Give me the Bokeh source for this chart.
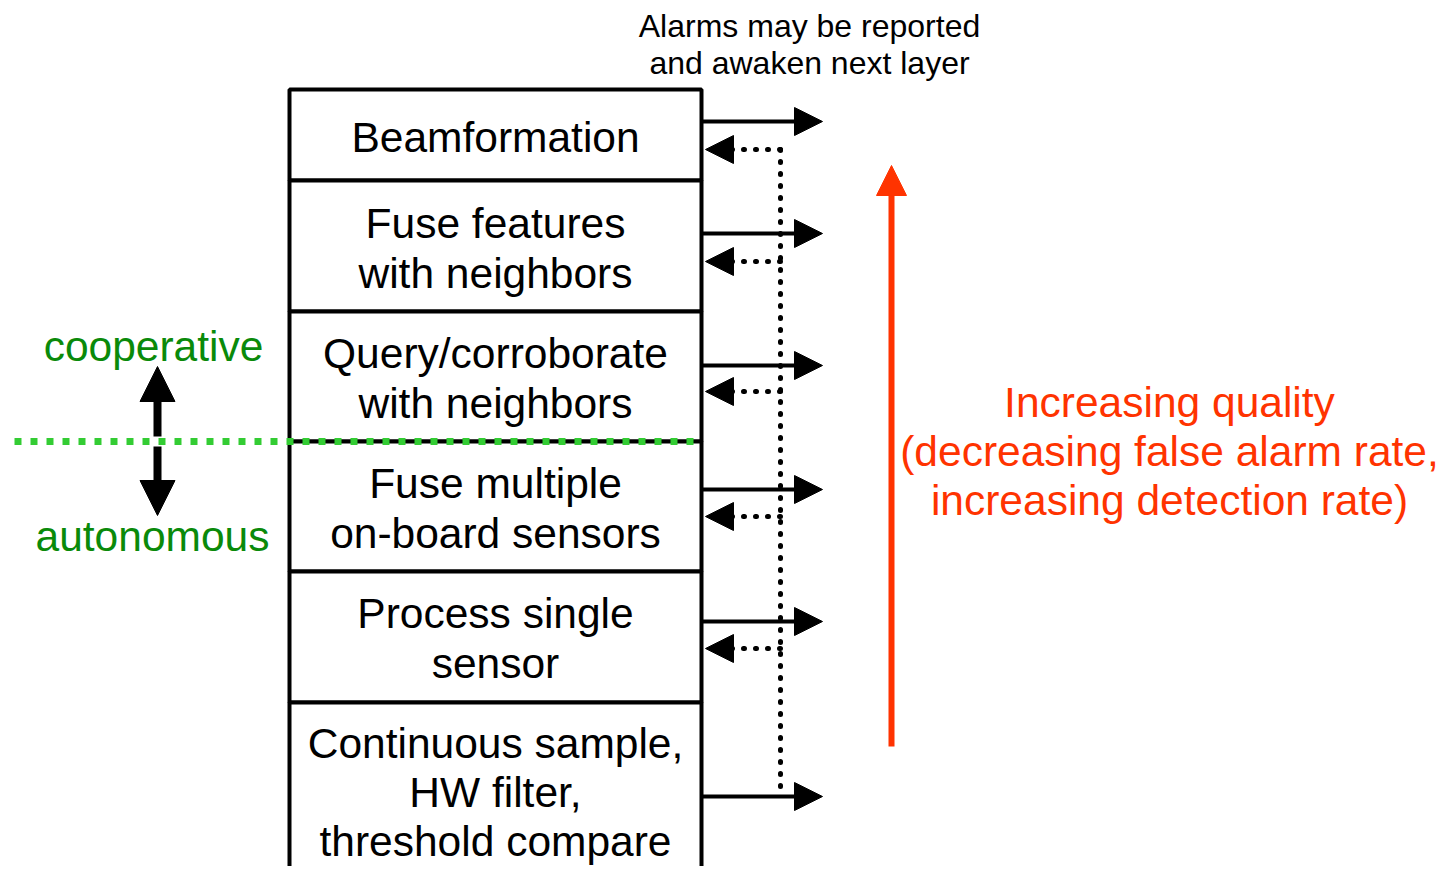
from bokeh.plotting import figure
from bokeh.models import Range1d, Arrow, NormalHead, ColumnDataSource
from bokeh.core.properties import value
from bokeh.embed import file_html
from bokeh.resources import INLINE

# ---- content ----
layers = [
    "Beamformation",
    "Fuse features\nwith neighbors",
    "Query/corroborate\nwith neighbors",
    "Fuse multiple\non-board sensors",
    "Process single\nsensor",
    "Continuous sample,\nHW filter,\nthreshold compare",
]
top_note = "Alarms may be reported\nand awaken next layer"
quality_note = "Increasing quality\n(decreasing false alarm rate,\nincreasing detection rate)"
coop_label = "cooperative"
auto_label = "autonomous"

# ---- layout (pixel coordinates) ----
FONT = "Liberation Sans"
W, H = 1438, 866
layer_edges = [89, 180, 311, 441, 571, 702, 900]
layer_text_y = [137, 248, 378, 508, 638, 792]
layer_line_h = [1.065, 1.065, 1.065, 1.065, 1.065, 1.045]
box_left, box_right = 289, 701
out_y = [121, 233, 365, 489, 621, 796]
ret_y = [149, 261, 391, 516, 648]
dot_x = 780
RED = "#FF3300"
GREEN_TXT = "#0A8A0A"
GREEN_LINE = "#33CC33"

p = figure(width=W, height=H, x_range=Range1d(0, W), y_range=Range1d(H, 0),
           output_backend="svg", toolbar_location=None, min_border=0,
           x_axis_location=None, y_axis_location=None)
p.grid.visible = False
p.outline_line_color = None
p.background_fill_color = "white"
p.border_fill_color = "white"

# boxes
box_src = ColumnDataSource(dict(
    left=[box_left] * len(layers), right=[box_right] * len(layers),
    top=layer_edges[:-1], bottom=layer_edges[1:],
    tx=[(box_left + box_right) / 2] * len(layers), ty=layer_text_y,
    lh=layer_line_h, label=layers))
p.quad(left="left", right="right", top="top", bottom="bottom", source=box_src,
       fill_color="white", line_color="black", line_width=4)
p.text(x="tx", y="ty", text="label", source=box_src, text_align="center",
       text_baseline="middle", text_font=value(FONT), text_font_size="42.5px",
       text_line_height="lh", text_color="black")

# green dotted divider
p.segment(x0=[14], y0=[441], x1=[700], y1=[441], line_color=GREEN_LINE,
          line_width=7, line_dash="7 9")

# output arrows
out_src = ColumnDataSource(dict(x0=[box_right] * len(out_y), x1=[822] * len(out_y), y=out_y))
p.add_layout(Arrow(x_start="x0", y_start="y", x_end="x1", y_end="y", source=out_src,
                   line_color="black", line_width=4,
                   end=NormalHead(size=28, fill_color="black", line_color="black", line_width=1)))

# dotted return path
p.segment(x0=[dot_x], y0=[ret_y[0]], x1=[dot_x], y1=[out_y[-1] - 4], line_color="black",
          line_width=5, line_dash="1 11", line_cap="round")
ret_src = ColumnDataSource(dict(x0=[dot_x] * len(ret_y), x1=[box_right + 4] * len(ret_y), y=ret_y))
p.add_layout(Arrow(x_start="x0", y_start="y", x_end="x1", y_end="y", source=ret_src,
                   line_color="black", line_width=5, line_dash="1 11", line_cap="round",
                   end=NormalHead(size=28, fill_color="black", line_color="black", line_width=1)))

# red quality arrow
p.add_layout(Arrow(x_start=891, y_start=746, x_end=891, y_end=165, line_color=RED, line_width=6,
                   end=NormalHead(size=30, fill_color=RED, line_color=RED, line_width=1)))

# cooperative / autonomous arrows
p.add_layout(Arrow(x_start=157, y_start=436, x_end=157, y_end=366, line_color="black", line_width=8,
                   end=NormalHead(size=35, fill_color="black", line_color="black", line_width=1)))
p.add_layout(Arrow(x_start=157, y_start=446, x_end=157, y_end=515, line_color="black", line_width=8,
                   end=NormalHead(size=35, fill_color="black", line_color="black", line_width=1)))

# texts
p.text(x=[153], y=[346], text=[coop_label], text_align="center", text_baseline="middle",
       text_font=value(FONT), text_font_size="42.5px", text_color=GREEN_TXT)
p.text(x=[152], y=[536], text=[auto_label], text_align="center", text_baseline="middle",
       text_font=value(FONT), text_font_size="42.5px", text_color=GREEN_TXT)
p.text(x=[1169], y=[451], text=[quality_note], text_align="center", text_baseline="middle",
       text_font=value(FONT), text_font_size="42.5px", text_line_height=1.045, text_color=RED)
p.text(x=[809], y=[44], text=[top_note], text_align="center", text_baseline="middle",
       text_font=value(FONT), text_font_size="32px", text_line_height=1.01, text_color="black")

open("out.html", "w").write(file_html(p, INLINE))
